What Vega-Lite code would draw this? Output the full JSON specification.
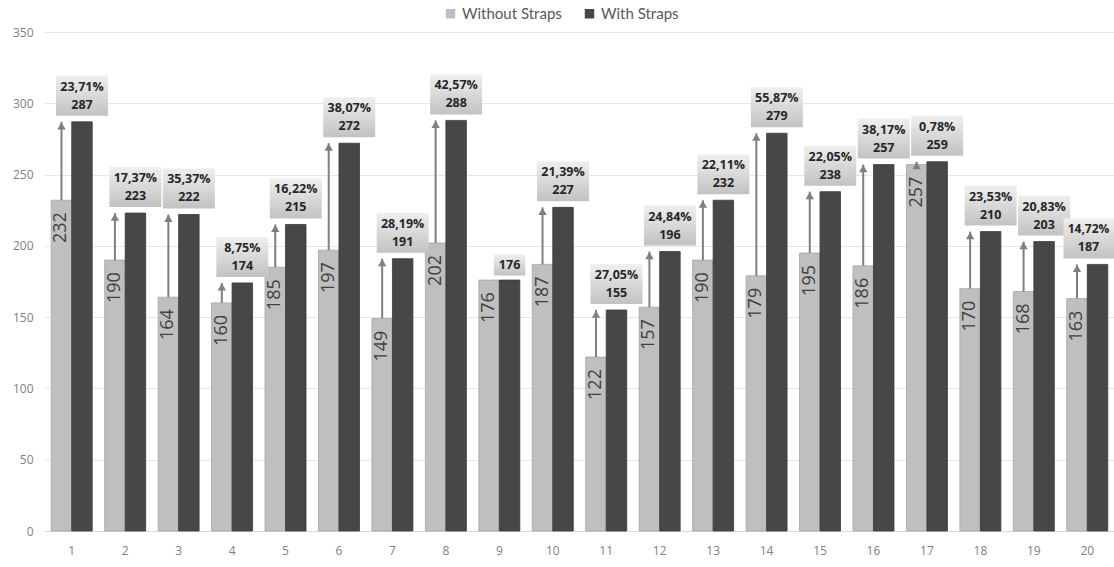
{
  "$schema": "https://vega.github.io/schema/vega-lite/v6.json",
  "autosize": {"type": "none"},
  "padding": {"left": 45, "top": 32, "right": 0, "bottom": 36},
  "width": 1069,
  "height": 499,
  "background": "white",
  "config": {
    "view": {"stroke": null},
    "font": "Open Sans",
    "axis": {"labelFont": "Open Sans", "labelColor": "#7f7f7f", "labelFontSize": 12}
  },
  "data": {
    "values": [
      {"cat": 1, "light": 232, "dark": 287, "pct": "23,71%"},
      {"cat": 2, "light": 190, "dark": 223, "pct": "17,37%"},
      {"cat": 3, "light": 164, "dark": 222, "pct": "35,37%"},
      {"cat": 4, "light": 160, "dark": 174, "pct": "8,75%"},
      {"cat": 5, "light": 185, "dark": 215, "pct": "16,22%"},
      {"cat": 6, "light": 197, "dark": 272, "pct": "38,07%"},
      {"cat": 7, "light": 149, "dark": 191, "pct": "28,19%"},
      {"cat": 8, "light": 202, "dark": 288, "pct": "42,57%"},
      {"cat": 9, "light": 176, "dark": 176, "pct": ""},
      {"cat": 10, "light": 187, "dark": 227, "pct": "21,39%"},
      {"cat": 11, "light": 122, "dark": 155, "pct": "27,05%"},
      {"cat": 12, "light": 157, "dark": 196, "pct": "24,84%"},
      {"cat": 13, "light": 190, "dark": 232, "pct": "22,11%"},
      {"cat": 14, "light": 179, "dark": 279, "pct": "55,87%"},
      {"cat": 15, "light": 195, "dark": 238, "pct": "22,05%"},
      {"cat": 16, "light": 186, "dark": 257, "pct": "38,17%"},
      {"cat": 17, "light": 257, "dark": 259, "pct": "0,78%"},
      {"cat": 18, "light": 170, "dark": 210, "pct": "23,53%"},
      {"cat": 19, "light": 168, "dark": 203, "pct": "20,83%"},
      {"cat": 20, "light": 163, "dark": 187, "pct": "14,72%"}
    ]
  },
  "encoding": {
    "x": {
      "field": "cat", "type": "ordinal",
      "scale": {"paddingInner": 0.233, "paddingOuter": 0.1165},
      "axis": {"title": null, "labelAngle": 0, "ticks": false, "domain": true, "domainColor": "#d9d9d9", "labelPadding": 14, "grid": false}
    }
  },
  "layer": [
    {
      "transform": [
        {"calculate": "datum.light", "as": "Without Straps"},
        {"calculate": "datum.dark", "as": "With Straps"},
        {"fold": ["Without Straps", "With Straps"], "as": ["series", "value"]}
      ],
      "mark": {"type": "bar", "strokeWidth": 0.8},
      "encoding": {
        "xOffset": {"field": "series", "scale": {"domain": ["Without Straps", "With Straps"]}},
        "y": {
          "field": "value", "type": "quantitative",
          "scale": {"domain": [0, 350], "nice": false},
          "axis": {"title": null, "values": [0, 50, 100, 150, 200, 250, 300, 350], "ticks": false, "domain": false, "gridColor": "#e6e6e6", "labelPadding": 12}
        },
        "color": {
          "field": "series", "type": "nominal",
          "scale": {"domain": ["Without Straps", "With Straps"], "range": ["#bfbfbf", "#474747"]},
          "legend": {
            "title": null, "orient": "none", "direction": "horizontal",
            "legendX": 398, "legendY": -26,
            "symbolType": "square", "symbolSize": 90, "symbolStrokeWidth": 0,
            "labelFont": "Lato", "labelFontSize": 15, "labelColor": "#595959",
            "labelOffset": 4, "columnPadding": 20
          }
        },
        "stroke": {
          "field": "series", "type": "nominal",
          "scale": {"domain": ["Without Straps", "With Straps"], "range": ["#a6a6a6", "#3a3a3a"]},
          "legend": null
        }
      }
    },
    {
      "transform": [{"filter": "datum.dark > datum.light"}],
      "mark": {"type": "rule", "color": "#7f7f7f", "strokeWidth": 2},
      "encoding": {
        "x": {"field": "cat", "type": "ordinal", "bandPosition": 0.25},
        "y": {"field": "light", "type": "quantitative"},
        "y2": {"field": "dark"}
      }
    },
    {
      "transform": [{"filter": "datum.dark > datum.light"}],
      "mark": {"type": "point", "shape": "triangle-up", "filled": true, "color": "#7f7f7f", "size": 70, "yOffset": 4, "opacity": 1},
      "encoding": {
        "x": {"field": "cat", "type": "ordinal", "bandPosition": 0.25},
        "y": {"field": "dark", "type": "quantitative"}
      }
    },
    {
      "mark": {"type": "text", "angle": 270, "align": "right", "baseline": "middle", "dx": -12, "fontSize": 18, "color": "#404040", "font": "Open Sans"},
      "encoding": {
        "x": {"field": "cat", "type": "ordinal", "bandPosition": 0.25},
        "y": {"field": "light", "type": "quantitative"},
        "text": {"field": "light"}
      }
    },
    {
      "transform": [{"filter": "datum.pct != '' && datum.cat != 20"}],
      "mark": {
        "type": "point", "shape": "M-1.3,-1L1.3,-1L1.3,1L-1.3,1Z", "size": 1600, "filled": true, "opacity": 1, "strokeWidth": 0, "yOffset": -26,
        "fill": {"gradient": "linear", "x1": 0, "y1": 0, "x2": 0, "y2": 1, "stops": [{"offset": 0, "color": "#efefef"}, {"offset": 1, "color": "#c2c2c2"}]}
      },
      "encoding": {
        "x": {"field": "cat", "type": "ordinal", "bandPosition": 0.75},
        "y": {"field": "dark", "type": "quantitative"}
      }
    },
    {
      "transform": [{"filter": "datum.cat == 20"}],
      "mark": {
        "type": "point", "shape": "M-1.3,-1L1.3,-1L1.3,1L-1.3,1Z", "size": 1600, "filled": true, "opacity": 1, "strokeWidth": 0, "yOffset": -26, "xOffset": -8,
        "fill": {"gradient": "linear", "x1": 0, "y1": 0, "x2": 0, "y2": 1, "stops": [{"offset": 0, "color": "#efefef"}, {"offset": 1, "color": "#c2c2c2"}]}
      },
      "encoding": {
        "x": {"field": "cat", "type": "ordinal", "bandPosition": 0.75},
        "y": {"field": "dark", "type": "quantitative"}
      }
    },
    {
      "transform": [{"filter": "datum.pct == ''"}],
      "mark": {
        "type": "point", "shape": "M-1.5,-1L1.5,-1L1.5,1L-1.5,1Z", "size": 441, "filled": true, "opacity": 1, "strokeWidth": 0, "yOffset": -15,
        "fill": {"gradient": "linear", "x1": 0, "y1": 0, "x2": 0, "y2": 1, "stops": [{"offset": 0, "color": "#efefef"}, {"offset": 1, "color": "#c2c2c2"}]}
      },
      "encoding": {
        "x": {"field": "cat", "type": "ordinal", "bandPosition": 0.75},
        "y": {"field": "dark", "type": "quantitative"}
      }
    },
    {
      "transform": [{"filter": "datum.pct != '' && datum.cat != 20"}],
      "mark": {"type": "text", "fontWeight": "bold", "fontSize": 12.5, "color": "#262626", "baseline": "middle", "yOffset": -35},
      "encoding": {
        "x": {"field": "cat", "type": "ordinal", "bandPosition": 0.75},
        "y": {"field": "dark", "type": "quantitative"},
        "text": {"field": "pct"}
      }
    },
    {
      "transform": [{"filter": "datum.pct != '' && datum.cat != 20"}],
      "mark": {"type": "text", "fontWeight": "bold", "fontSize": 12.5, "color": "#262626", "baseline": "middle", "yOffset": -17},
      "encoding": {
        "x": {"field": "cat", "type": "ordinal", "bandPosition": 0.75},
        "y": {"field": "dark", "type": "quantitative"},
        "text": {"field": "dark"}
      }
    },
    {
      "transform": [{"filter": "datum.cat == 20"}],
      "mark": {"type": "text", "fontWeight": "bold", "fontSize": 12, "color": "#262626", "baseline": "middle", "yOffset": -35, "xOffset": -9},
      "encoding": {
        "x": {"field": "cat", "type": "ordinal", "bandPosition": 0.75},
        "y": {"field": "dark", "type": "quantitative"},
        "text": {"field": "pct"}
      }
    },
    {
      "transform": [{"filter": "datum.cat == 20"}],
      "mark": {"type": "text", "fontWeight": "bold", "fontSize": 12.5, "color": "#262626", "baseline": "middle", "yOffset": -17, "xOffset": -9},
      "encoding": {
        "x": {"field": "cat", "type": "ordinal", "bandPosition": 0.75},
        "y": {"field": "dark", "type": "quantitative"},
        "text": {"field": "dark"}
      }
    },
    {
      "transform": [{"filter": "datum.pct == ''"}],
      "mark": {"type": "text", "fontWeight": "bold", "fontSize": 12.5, "color": "#262626", "baseline": "middle", "yOffset": -15},
      "encoding": {
        "x": {"field": "cat", "type": "ordinal", "bandPosition": 0.75},
        "y": {"field": "dark", "type": "quantitative"},
        "text": {"field": "dark"}
      }
    }
  ]
}
